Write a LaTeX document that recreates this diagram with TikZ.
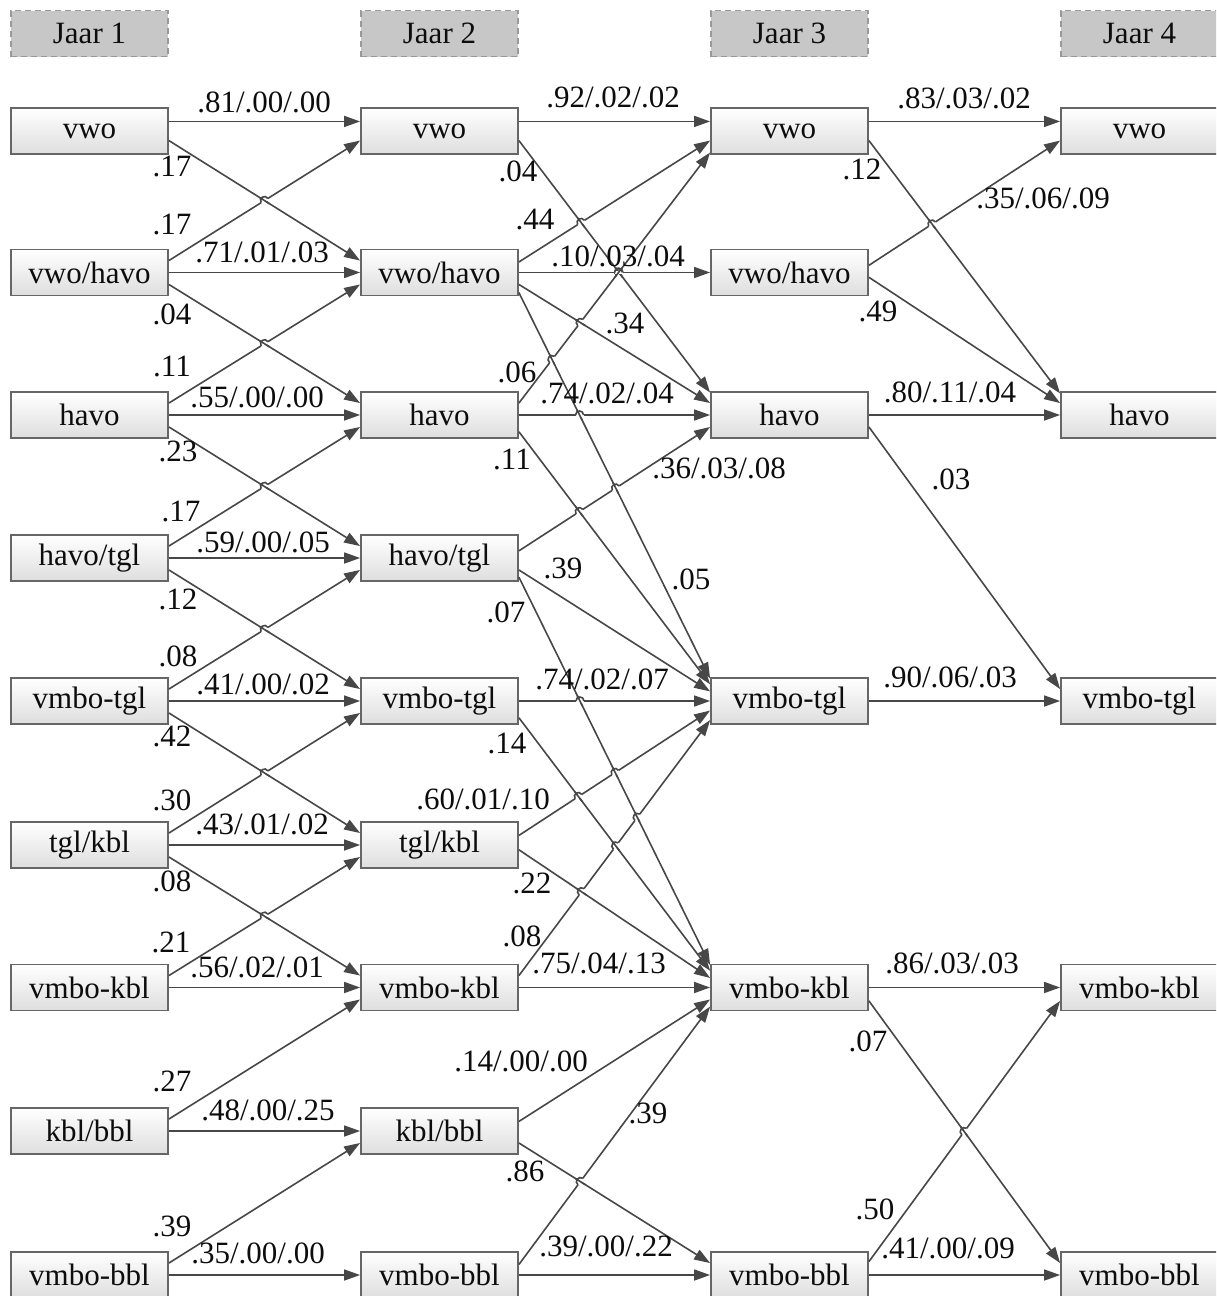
\documentclass[tikz,border=0pt]{standalone}
\usepackage{fontspec}
\setmainfont{Liberation Serif}
\usetikzlibrary{positioning}
\usetikzlibrary{calc}
\usetikzlibrary{intersections}
\usetikzlibrary{arrows.meta}

\tikzset{
  vak/.style={draw=black!60, line width=0.9pt, top color=white, bottom color=black!13,
    minimum width=78.5pt, minimum height=23pt, inner sep=0pt, text=black!95,
    font=\fontsize{15.5}{18}\selectfont},
  jaar/.style={draw=black!40, densely dashed, line width=0.6pt, fill=black!22,
    minimum width=78.5pt, minimum height=23pt, inner sep=0pt, text=black!95,
    font=\fontsize{15.5}{18}\selectfont},
  lijn/.style={draw=black!72, line width=0.8pt, -{Triangle[length=8pt,width=5.5pt]}},
  lijnkaal/.style={draw=black!72, line width=0.8pt},
  getal/.style={inner sep=0pt, text=black!95, text height=0.68em, text depth=0pt,
    font=\fontsize{15.5}{18}\selectfont},
}

% pijl van rechterkant #2 (fractie #3) naar linkerkant #4 (fractie #5)
\newcommand{\pijl}[5]{%
  \coordinate (#1s) at ($(#2.north east)!#3!(#2.south east)$);
  \coordinate (#1e) at ($(#4.north west)!#5!(#4.south west)$);
  \draw[lijn, name path=#1] (#1s) -- (#1e);
}
% lijn #1 springt over lijn #2
\newcommand{\sprong}[2]{%
  \path[name intersections={of=#1 and #2, by=x#1#2}];
  \coordinate (h#1#2a) at ($(x#1#2)!2pt!(#1s)$);
  \coordinate (h#1#2b) at ($(x#1#2)!2pt!(#1e)$);
  \draw[white, line width=1.8pt] (h#1#2a) -- (h#1#2b);
  \draw[lijnkaal] ($(x#1#2)!3pt!(#2s)$) -- ($(x#1#2)!3pt!(#2e)$);
  \draw[lijnkaal] (h#1#2a) .. controls ($(h#1#2a)!0.667!90:(h#1#2b)$) and ($(h#1#2b)!0.667!-90:(h#1#2a)$) .. (h#1#2b);
}

\begin{document}
\begin{tikzpicture}[x=0.5pt,y=-0.5pt]
\useasboundingbox (0,0) rectangle (1216,1296);
\clip (0,0) rectangle (1216,1296);

% Jaar 1
\node[vak] (j1r0) at (89.5,131) {vwo};
\node[vak] (j1r1) at (89.5,272.5) {vwo/havo};
\node[vak] (j1r2) at (89.5,415) {havo};
\node[vak] (j1r3) at (89.5,558) {havo/tgl};
\node[vak] (j1r4) at (89.5,701) {vmbo-tgl};
\node[vak] (j1r5) at (89.5,845) {tgl/kbl};
\node[vak] (j1r6) at (89.5,987.5) {vmbo-kbl};
\node[vak] (j1r7) at (89.5,1131) {kbl/bbl};
\node[vak] (j1r8) at (89.5,1275) {vmbo-bbl};
% Jaar 2
\node[vak] (j2r0) at (439.5,131) {vwo};
\node[vak] (j2r1) at (439.5,272.5) {vwo/havo};
\node[vak] (j2r2) at (439.5,415) {havo};
\node[vak] (j2r3) at (439.5,558) {havo/tgl};
\node[vak] (j2r4) at (439.5,701) {vmbo-tgl};
\node[vak] (j2r5) at (439.5,845) {tgl/kbl};
\node[vak] (j2r6) at (439.5,987.5) {vmbo-kbl};
\node[vak] (j2r7) at (439.5,1131) {kbl/bbl};
\node[vak] (j2r8) at (439.5,1275) {vmbo-bbl};
% Jaar 3
\node[vak] (j3r0) at (789.5,131) {vwo};
\node[vak] (j3r1) at (789.5,272.5) {vwo/havo};
\node[vak] (j3r2) at (789.5,415) {havo};
\node[vak] (j3r4) at (789.5,701) {vmbo-tgl};
\node[vak] (j3r6) at (789.5,987.5) {vmbo-kbl};
\node[vak] (j3r8) at (789.5,1275) {vmbo-bbl};
% Jaar 4
\node[vak] (j4r0) at (1139.5,131) {vwo};
\node[vak] (j4r2) at (1139.5,415) {havo};
\node[vak] (j4r4) at (1139.5,701) {vmbo-tgl};
\node[vak] (j4r6) at (1139.5,987.5) {vmbo-kbl};
\node[vak] (j4r8) at (1139.5,1275) {vmbo-bbl};

% kopjes
\node[jaar, above=25pt of j1r0] (k1) {Jaar 1};
\node[jaar, above=25pt of j2r0] (k2) {Jaar 2};
\node[jaar, above=25pt of j3r0] (k3) {Jaar 3};
\node[jaar, above=25pt of j4r0] (k4) {Jaar 4};

% jaar 1 -> jaar 2
\pijl{a00}{j1r0}{.3}{j2r0}{.3}
\pijl{a01}{j1r0}{.7}{j2r1}{.25}
\pijl{a10}{j1r1}{.25}{j2r0}{.7}
\pijl{a11}{j1r1}{.5}{j2r1}{.5}
\pijl{a12}{j1r1}{.75}{j2r2}{.25}
\pijl{a21}{j1r2}{.25}{j2r1}{.75}
\pijl{a22}{j1r2}{.5}{j2r2}{.5}
\pijl{a23}{j1r2}{.75}{j2r3}{.25}
\pijl{a32}{j1r3}{.25}{j2r2}{.75}
\pijl{a33}{j1r3}{.5}{j2r3}{.5}
\pijl{a34}{j1r3}{.75}{j2r4}{.25}
\pijl{a43}{j1r4}{.25}{j2r3}{.75}
\pijl{a44}{j1r4}{.5}{j2r4}{.5}
\pijl{a45}{j1r4}{.75}{j2r5}{.25}
\pijl{a54}{j1r5}{.25}{j2r4}{.75}
\pijl{a55}{j1r5}{.5}{j2r5}{.5}
\pijl{a56}{j1r5}{.75}{j2r6}{.25}
\pijl{a65}{j1r6}{.25}{j2r5}{.75}
\pijl{a66}{j1r6}{.5}{j2r6}{.5}
\pijl{a76}{j1r7}{.25}{j2r6}{.75}
\pijl{a77}{j1r7}{.5}{j2r7}{.5}
\pijl{a87}{j1r8}{.25}{j2r7}{.75}
\pijl{a88}{j1r8}{.5}{j2r8}{.5}

% jaar 2 -> jaar 3
\pijl{b00}{j2r0}{.3}{j3r0}{.3}
\pijl{b02}{j2r0}{.7}{j3r2}{.03}
\pijl{b10}{j2r1}{.28}{j3r0}{.7}
\pijl{b11}{j2r1}{.5}{j3r1}{.5}
\pijl{b12}{j2r1}{.75}{j3r2}{.25}
\pijl{b14}{j2r1}{.92}{j3r4}{.03}
\pijl{b20}{j2r2}{.25}{j3r0}{.95}
\pijl{b22}{j2r2}{.5}{j3r2}{.5}
\pijl{b24}{j2r2}{.85}{j3r4}{.15}
\pijl{b32}{j2r3}{.35}{j3r2}{.75}
\pijl{b34}{j2r3}{.75}{j3r4}{.3}
\pijl{b36}{j2r3}{.9}{j3r6}{.03}
\pijl{b44}{j2r4}{.5}{j3r4}{.5}
\pijl{b46}{j2r4}{.85}{j3r6}{.15}
\pijl{b54}{j2r5}{.3}{j3r4}{.7}
\pijl{b56}{j2r5}{.6}{j3r6}{.3}
\pijl{b64}{j2r6}{.25}{j3r4}{.9}
\pijl{b66}{j2r6}{.5}{j3r6}{.5}
\pijl{b76}{j2r7}{.3}{j3r6}{.75}
\pijl{b78}{j2r7}{.75}{j3r8}{.25}
\pijl{b86}{j2r8}{.28}{j3r6}{.9}
\pijl{b88}{j2r8}{.5}{j3r8}{.5}

% jaar 3 -> jaar 4
\pijl{c00}{j3r0}{.3}{j4r0}{.3}
\pijl{c02}{j3r0}{.7}{j4r2}{.05}
\pijl{c10}{j3r1}{.35}{j4r0}{.7}
\pijl{c12}{j3r1}{.6}{j4r2}{.25}
\pijl{c22}{j3r2}{.5}{j4r2}{.5}
\pijl{c24}{j3r2}{.75}{j4r4}{.25}
\pijl{c44}{j3r4}{.5}{j4r4}{.5}
\pijl{c66}{j3r6}{.5}{j4r6}{.5}
\pijl{c68}{j3r6}{.78}{j4r8}{.25}
\pijl{c86}{j3r8}{.22}{j4r6}{.78}
\pijl{c88}{j3r8}{.5}{j4r8}{.5}

% sprongen bij kruisingen
\sprong{a10}{a01}
\sprong{a21}{a12}
\sprong{a32}{a23}
\sprong{a43}{a34}
\sprong{a54}{a45}
\sprong{a65}{a56}
\sprong{b10}{b02}
\sprong{b20}{b02}
\sprong{b11}{b02}
\sprong{b11}{b20}
\sprong{b20}{b12}
\sprong{b20}{b14}
\sprong{b22}{b14}
\sprong{b32}{b14}
\sprong{b32}{b24}
\sprong{b44}{b36}
\sprong{b54}{b36}
\sprong{b64}{b36}
\sprong{b54}{b46}
\sprong{b64}{b46}
\sprong{b64}{b56}
\sprong{b86}{b78}
\sprong{c10}{c02}
\sprong{c86}{c68}

% getallen jaar 1 -> 2
\node[getal] (ga00) at (264,106) {.81/.00/.00};
\node[getal] (ga01) at (172,170) {.17};
\node[getal] (ga10) at (172,228) {.17};
\node[getal] (ga11) at (262,256) {.71/.01/.03};
\node[getal] (ga12) at (172,318) {.04};
\node[getal] (ga21) at (172,370) {.11};
\node[getal] (ga22) at (257,401) {.55/.00/.00};
\node[getal] (ga23) at (178,455) {.23};
\node[getal] (ga32) at (181,515) {.17};
\node[getal] (ga33) at (263,546) {.59/.00/.05};
\node[getal] (ga34) at (178,603) {.12};
\node[getal] (ga43) at (178,660) {.08};
\node[getal] (ga44) at (263,688) {.41/.00/.02};
\node[getal] (ga45) at (172,740) {.42};
\node[getal] (ga54) at (172,804) {.30};
\node[getal] (ga55) at (262,828) {.43/.01/.02};
\node[getal] (ga56) at (172,885) {.08};
\node[getal] (ga65) at (171,946) {.21};
\node[getal] (ga66) at (257,971) {.56/.02/.01};
\node[getal] (ga76) at (172,1085) {.27};
\node[getal] (ga77) at (268,1114) {.48/.00/.25};
\node[getal] (ga87) at (172,1230) {.39};
\node[getal] (ga88) at (258,1257) {.35/.00/.00};

% getallen jaar 2 -> 3
\node[getal] (gb00) at (613,101) {.92/.02/.02};
\node[getal] (gb02) at (518,175) {.04};
\node[getal] (gb10) at (535,223) {.44};
\node[getal] (gb11) at (618,260) {.10/.03/.04};
\node[getal] (gb12) at (625,327) {.34};
\node[getal] (gb20) at (517,376) {.06};
\node[getal] (gb22) at (607,397) {.74/.02/.04};
\node[getal] (gb24) at (512,463) {.11};
\node[getal] (gb32) at (719,472) {.36/.03/.08};
\node[getal] (gb34) at (563,572) {.39};
\node[getal] (gb14) at (691,583) {.05};
\node[getal] (gb36) at (506,616) {.07};
\node[getal] (gb44) at (602,683) {.74/.02/.07};
\node[getal] (gb46) at (507,747) {.14};
\node[getal] (gb54) at (483,803) {.60/.01/.10};
\node[getal] (gb56) at (532,887) {.22};
\node[getal] (gb64) at (522,940) {.08};
\node[getal] (gb66) at (599,967) {.75/.04/.13};
\node[getal] (gb76) at (521,1065) {.14/.00/.00};
\node[getal] (gb86) at (648,1117) {.39};
\node[getal] (gb78) at (525,1175) {.86};
\node[getal] (gb88) at (606,1250) {.39/.00/.22};

% getallen jaar 3 -> 4
\node[getal] (gc00) at (964,102) {.83/.03/.02};
\node[getal] (gc02) at (862,173) {.12};
\node[getal] (gc10) at (1043,202) {.35/.06/.09};
\node[getal] (gc12) at (878,315) {.49};
\node[getal] (gc22) at (950,396) {.80/.11/.04};
\node[getal] (gc24) at (951,483) {.03};
\node[getal] (gc44) at (950,681) {.90/.06/.03};
\node[getal] (gc66) at (952,967) {.86/.03/.03};
\node[getal] (gc68) at (868,1045) {.07};
\node[getal] (gc86) at (875,1213) {.50};
\node[getal] (gc88) at (948,1252) {.41/.00/.09};
\end{tikzpicture}
\end{document}
